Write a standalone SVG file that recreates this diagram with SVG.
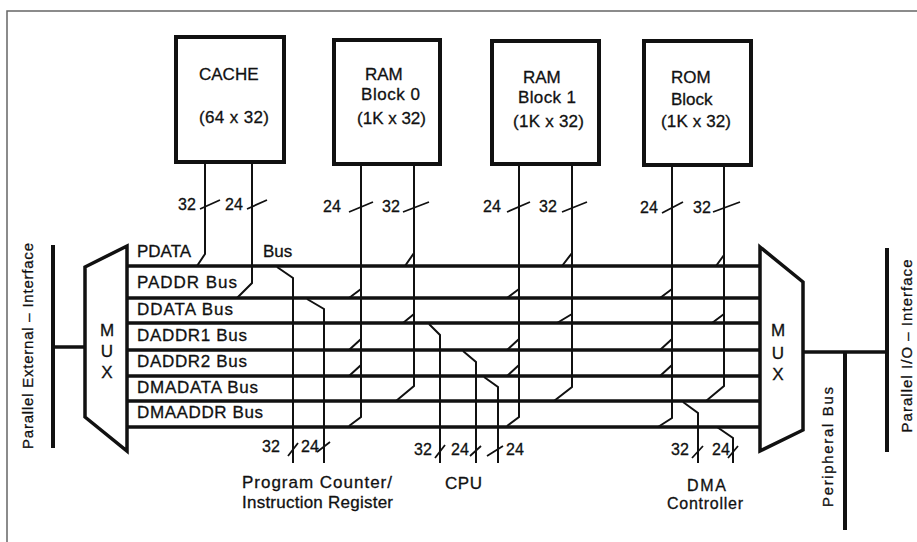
<svg xmlns="http://www.w3.org/2000/svg" width="917" height="542" viewBox="0 0 917 542">
<style>
text{font-family:"Liberation Sans",Arial,sans-serif;fill:#111;stroke:#111;stroke-width:0.3}
.blk{font-size:17px}
.bus{font-size:17px}
.num{font-size:16px}
.lbl{font-size:17px}
.mux{font-size:17px;text-anchor:middle}
.rot{font-size:15px;text-anchor:middle}
.box{fill:#fff;stroke:#111;stroke-width:4}
.busln{stroke:#111;stroke-width:3.5;fill:none}
.ln{stroke:#111;stroke-width:2;fill:none}
.tick{stroke:#111;stroke-width:1.8;fill:none}
.thick{stroke:#111;stroke-width:4;fill:none}
.muxs{fill:#fff;stroke:#111;stroke-width:3.5;stroke-linejoin:miter}
</style>
<rect x="0" y="0" width="917" height="542" fill="#fff"/>
<path d="M7,542 V11 H917" fill="none" stroke="#666" stroke-width="1.5"/>

<g id="cache">
<rect class="box" x="176" y="37" width="108" height="125"/>
<text class="blk" x="199" y="80">CACHE</text>
<text class="blk" x="199" y="123" textLength="70">(64 x 32)</text>
</g>
<g id="ram0">
<rect class="box" x="334" y="40" width="106" height="124"/>
<text class="blk" x="365" y="80">RAM</text>
<text class="blk" x="361" y="100" textLength="59">Block 0</text>
<text class="blk" x="357" y="124" textLength="69">(1K x 32)</text>
</g>
<g id="ram1">
<rect class="box" x="492" y="41" width="107" height="123"/>
<text class="blk" x="523" y="83">RAM</text>
<text class="blk" x="518" y="103" textLength="58">Block 1</text>
<text class="blk" x="513" y="127" textLength="71">(1K x 32)</text>
</g>
<g id="rom">
<rect class="box" x="644" y="41" width="107" height="124"/>
<text class="blk" x="671" y="83">ROM</text>
<text class="blk" x="671" y="105">Block</text>
<text class="blk" x="661" y="127" textLength="70">(1K x 32)</text>
</g>

<g id="mux-left">
<polygon class="muxs" points="127,246 85,267 85,417 127,451"/>
<text class="mux" x="107" y="336">M</text>
<text class="mux" x="107" y="357">U</text>
<text class="mux" x="107" y="378">X</text>
</g>
<g id="mux-right">
<polygon class="muxs" points="760,247 803,282 803,430 760,451"/>
<text class="mux" x="778" y="336">M</text>
<text class="mux" x="778" y="359">U</text>
<text class="mux" x="778" y="380">X</text>
</g>

<g id="buses">
<line class="busln" x1="127" y1="266" x2="760" y2="266"/>
<line class="busln" x1="127" y1="298" x2="760" y2="298"/>
<line class="busln" x1="127" y1="323" x2="760" y2="323"/>
<line class="busln" x1="127" y1="350" x2="760" y2="350"/>
<line class="busln" x1="127" y1="376" x2="760" y2="376"/>
<line class="busln" x1="127" y1="401" x2="760" y2="401"/>
<line class="busln" x1="127" y1="427" x2="760" y2="427"/>
<text class="bus" x="137" y="257">PDATA</text>
<text class="bus" x="263" y="257">Bus</text>
<text class="bus" x="137" y="288" textLength="100" lengthAdjust="spacing">PADDR  Bus</text>
<text class="bus" x="137" y="315" textLength="96" lengthAdjust="spacing">DDATA  Bus</text>
<text class="bus" x="137" y="341" textLength="110" lengthAdjust="spacing">DADDR1  Bus</text>
<text class="bus" x="137" y="367" textLength="110" lengthAdjust="spacing">DADDR2  Bus</text>
<text class="bus" x="137" y="393" textLength="121" lengthAdjust="spacing">DMADATA Bus</text>
<text class="bus" x="137" y="418" textLength="126" lengthAdjust="spacing">DMAADDR Bus</text>
</g>

<g id="interfaces">
<line class="thick" x1="53" y1="245" x2="53" y2="448"/>
<line class="busln" x1="53" y1="347" x2="85" y2="347"/>
<text class="rot" transform="translate(33,346) rotate(-90)" textLength="206" lengthAdjust="spacing">Parallel  External – Interface</text>
<line class="busln" x1="803" y1="352" x2="887" y2="352"/>
<line class="thick" x1="887" y1="248" x2="887" y2="452"/>
<line class="thick" x1="845" y1="352" x2="845" y2="530"/>
<text class="rot" transform="translate(833,447) rotate(-90)" textLength="120" lengthAdjust="spacing">Peripheral  Bus</text>
<text class="rot" transform="translate(912,346) rotate(-90)" textLength="173" lengthAdjust="spacing">Parallel  I/O – Interface</text>
</g>

<g id="connectors">
<path class="ln" d="M205,163 V254 L197,266"/>
<path class="ln" d="M252,163 V283 L237,298"/>
<path class="ln" d="M361,164 V417 L349,426 M349,298 L361,289 M349,350 L361,339 M349,376 L361,365"/>
<path class="ln" d="M414,164 V386 L396,401 M405,266 L414,253 M403,323 L414,314"/>
<path class="ln" d="M519,164 V417 L507,426 M507,298 L519,289 M507,350 L519,339 M507,376 L519,365"/>
<path class="ln" d="M572,164 V387 L554,401 M562,266 L572,253 M557,323 L572,314"/>
<path class="ln" d="M672,165 V418 L658,427 M660,298 L672,289 M660,350 L672,339 M660,376 L672,365"/>
<path class="ln" d="M724,165 V386 L706,401 M716,266 L724,255 M712,323 L724,314"/>
<path class="ln" d="M277,267 L293,278 V463"/>
<path class="ln" d="M307,299 L324,309 V463"/>
<path class="ln" d="M429,324 L440,335 V463"/>
<path class="ln" d="M463,351 L476,362 V463"/>
<path class="ln" d="M484,377 L498,387 V463"/>
<path class="ln" d="M683,402 L698,413 V463"/>
<path class="ln" d="M717,427 L733,438 V463"/>
<path class="tick" d="M200,209 L220,200 M247,209 L267,200 M349,212 L373,202 M403,212 L429,202 M507,212 L530,202 M562,212 L587,202 M662,213 L683,202 M713,212 L740,202"/>
<path class="tick" d="M288,456 L298,443 M317,452 L330,442 M435,458 L445,445 M470,456 L481,446 M487,456 L503,446 M692,458 L703,446 M728,458 L738,446"/>
<text class="num" x="178" y="210">32</text>
<text class="num" x="225" y="210">24</text>
<text class="num" x="323" y="212">24</text>
<text class="num" x="382" y="212">32</text>
<text class="num" x="483" y="212">24</text>
<text class="num" x="539" y="212">32</text>
<text class="num" x="640" y="213">24</text>
<text class="num" x="693" y="213">32</text>
<text class="num" x="262" y="452">32</text>
<text class="num" x="301" y="452">24</text>
<text class="num" x="414" y="455">32</text>
<text class="num" x="451" y="455">24</text>
<text class="num" x="506" y="455">24</text>
<text class="num" x="671" y="455">32</text>
<text class="num" x="712" y="455">24</text>
</g>

<g id="pc">
<text class="lbl" x="242" y="488" textLength="150" lengthAdjust="spacing">Program  Counter/</text>
<text class="lbl" x="242" y="508" textLength="151" lengthAdjust="spacing">Instruction Register</text>
</g>
<g id="cpu">
<text class="lbl" x="445" y="489" textLength="37" lengthAdjust="spacing">CPU</text>
</g>
<g id="dma">
<text class="lbl" x="687" y="491" style="font-size:16px" textLength="39" lengthAdjust="spacing">DMA</text>
<text class="lbl" x="667" y="509" style="font-size:16px" textLength="76" lengthAdjust="spacing">Controller</text>
</g>
</svg>
